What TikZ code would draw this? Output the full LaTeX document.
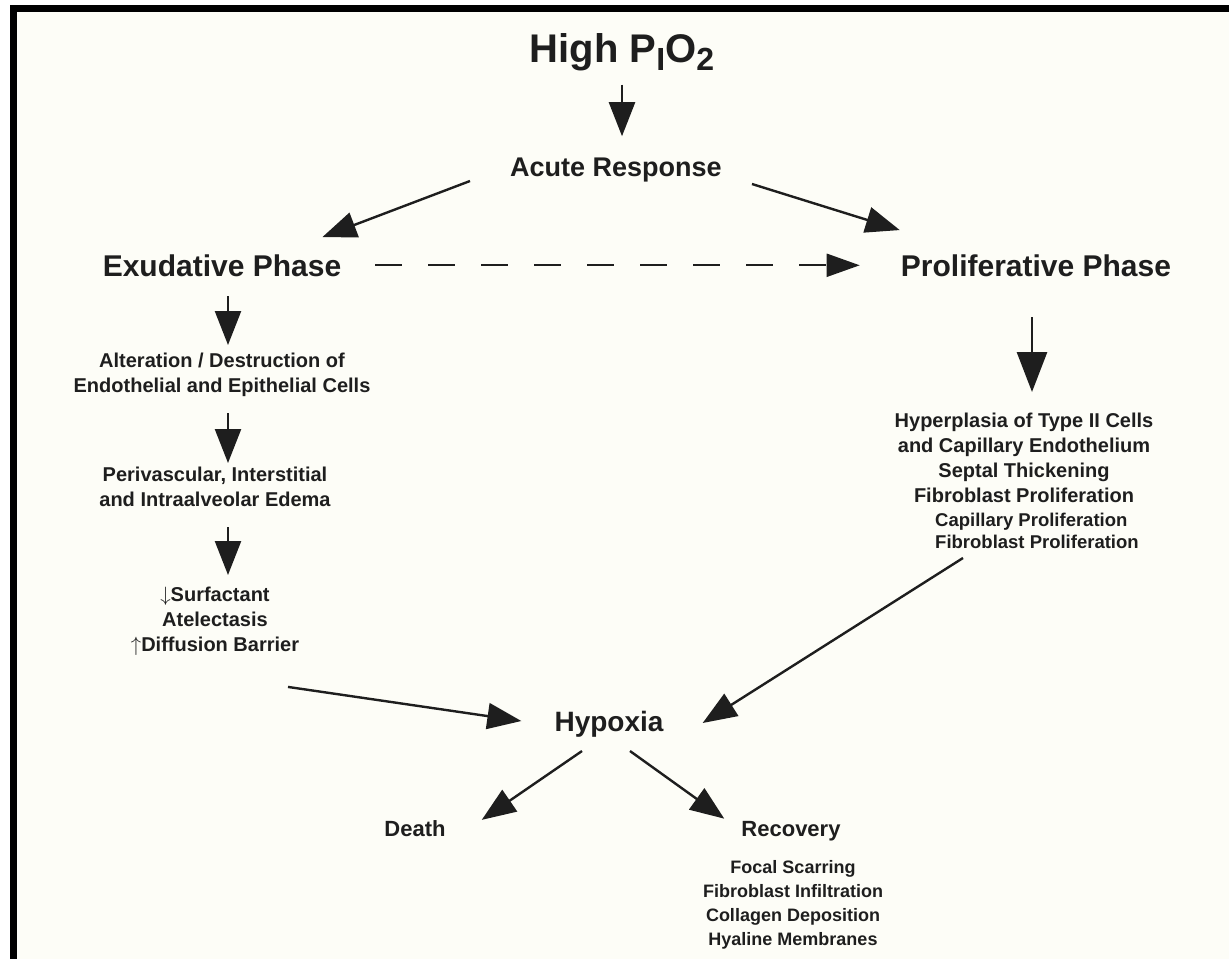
\documentclass[tikz,border=0pt]{standalone}
\usepackage{fontspec}
\setmainfont{Liberation Sans}
\usetikzlibrary{arrows.meta,positioning}
\definecolor{ink}{HTML}{1E1E1E}
\definecolor{paper}{HTML}{FDFDF7}

\begin{document}
\begin{tikzpicture}[x=1pt,y=-1pt,
every node/.style={inner sep=0pt,text=ink,font=\bfseries},
phase/.style={font=\bfseries\fontsize{30}{34}\selectfont},
notes/.style={align=center,font=\bfseries\fontsize{20}{25}\selectfont},
small/.style={align=center,font=\bfseries\fontsize{18}{24}\selectfont},
flow/.style={draw=ink,line width=2.4pt,-{Triangle[length=34pt,width=26pt]}},
dashflow/.style={draw=ink,line width=2pt,dash pattern=on 27pt off 26pt,-{Triangle[length=33pt,width=23pt]}}]
\useasboundingbox (0,0) rectangle (1229,959);
\fill[paper] (10,5) rectangle (1229,959);
\fill[black] (10,5) rectangle (1229,12);
\fill[black] (10,5) rectangle (17,959);
\coordinate (lcol) at (228,0);
\coordinate (rcol) at (1032,0);
\node[anchor=base,font=\bfseries\fontsize{40}{44}\selectfont] (high) at (622,62) {High P\raisebox{-8pt}{\fontsize{32}{32}\selectfont I}O\raisebox{-8pt}{\fontsize{32}{32}\selectfont 2}};
\node[phase,anchor=base,font=\bfseries\fontsize{27}{32}\selectfont] (acute) at (616,176) {Acute Response};
\node[phase,anchor=base] (exud) at (222,276) {Exudative Phase};
\node[phase,anchor=base] (prolif) at (1036,276) {Proliferative Phase};
\node[notes,anchor=north] (alter) at (222,353) {Alteration / Destruction of\\Endothelial and Epithelial Cells};
\node[notes,anchor=north] (periv) at (215,467) {Perivascular, Interstitial\\and Intraalveolar Edema};
\node[notes,anchor=north] (surf) at (215,587) {$\downarrow$Surfactant\\Atelectasis\\$\uparrow$Diffusion Barrier};
\node[notes,anchor=north] (hyper) at (1024,413) {Hyperplasia of Type II Cells\\and Capillary Endothelium\\Septal Thickening\\Fibroblast Proliferation};
\node[small,align=left,anchor=north west,font=\bfseries\fontsize{18.5}{22}\selectfont] (capil) at (935,513) {Capillary Proliferation\\Fibroblast Proliferation};
\node[phase,anchor=base,font=\bfseries\fontsize{28}{32}\selectfont] (hyp) at (609,731) {Hypoxia};
\node[anchor=base,font=\bfseries\fontsize{22}{26}\selectfont] (death) at (415,836) {Death};
\node[anchor=base,font=\bfseries\fontsize{22}{26}\selectfont] (recov) at (791,836) {Recovery};
\node[small,anchor=north] (scar) at (793,860) {Focal Scarring\\Fibroblast Infiltration\\Collagen Deposition\\Hyaline Membranes};
\draw[flow,shorten <=14pt,shorten >=21pt] (high.south) -- (high.south |- acute.north);
\draw[flow] ([shift={(-40,5)}]acute.base west) -- ([shift={(-19,-17)}]exud.north east);
\draw[flow] ([shift={(30,8)}]acute.base east) -- ([shift={(-1,-24)}]prolif.north west);
\draw[dashflow,shorten <=34pt,shorten >=41pt] (exud.east) -- (exud.east -| prolif.west);
\draw[flow,shorten <=20pt,shorten >=8pt] (exud.south -| lcol) -- (alter.north -| lcol);
\draw[flow,shorten <=16pt,shorten >=4pt] (alter.south -| lcol) -- (periv.north -| lcol);
\draw[flow,shorten <=20pt,shorten >=12pt] (periv.south -| lcol) -- (surf.north -| lcol);
\draw[flow,line width=2.8pt,-{Triangle[length=40pt,width=30pt]},shorten <=41pt,shorten >=21pt] (prolif.south -| rcol) -- (hyper.north -| rcol);
\draw[flow] ([shift={(73,31)}]surf.south) -- ([shift={(-33,-10)}]hyp.base west);
\draw[flow] ([shift={(28,9)}]capil.south west) -- ([shift={(39,-8)}]hyp.base east);
\draw[flow] ([shift={(-27,14)}]hyp.south) -- ([shift={(36,0)}]death.north east);
\draw[flow] ([shift={(21,14)}]hyp.south) -- ([shift={(-17,-2)}]recov.north west);
\end{tikzpicture}
\end{document}
